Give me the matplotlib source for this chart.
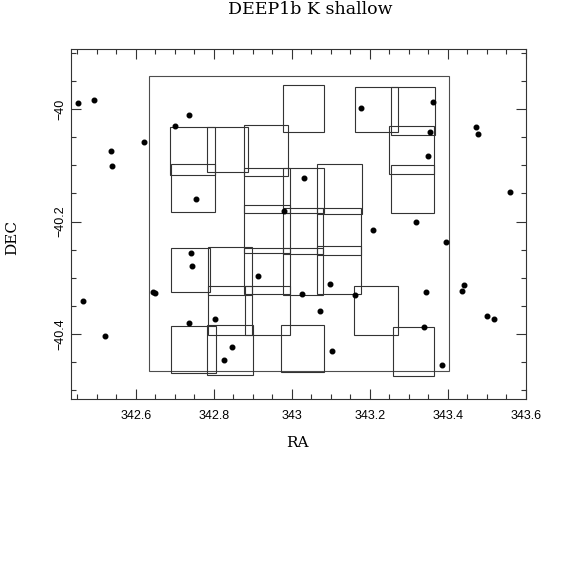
import matplotlib
matplotlib.use("Agg")
import matplotlib.pyplot as plt
from matplotlib.patches import Rectangle
from matplotlib.ticker import MultipleLocator

# field outline
field_ra = [342.635, 343.403]
field_dec = [-40.465, -39.941]

# individual pointings (RA min/max, DEC min/max)
tile_ra0 = [342.976, 343.163, 343.253, 342.688, 342.783, 342.878, 343.250,
            342.691, 342.878, 342.976, 343.065, 343.253, 342.878, 342.976,
            343.065, 342.691, 342.786, 342.878, 342.976, 343.065, 342.786,
            342.881, 343.158, 342.691, 342.783, 342.971, 343.258]
tile_ra1 = [343.083, 343.271, 343.368, 342.804, 342.888, 342.991, 343.365,
            342.804, 342.994, 343.083, 343.181, 343.365, 342.994, 343.081,
            343.176, 342.791, 342.899, 342.994, 343.081, 343.178, 342.899,
            342.994, 343.271, 342.806, 342.901, 343.083, 343.365]
tile_dec0 = [-40.040, -40.040, -40.046, -40.117, -40.112, -40.119, -40.115,
             -40.183, -40.185, -40.185, -40.186, -40.185, -40.256, -40.257,
             -40.259, -40.325, -40.330, -40.329, -40.330, -40.329, -40.401,
             -40.401, -40.401, -40.469, -40.473, -40.467, -40.475]
tile_dec1 = [-39.957, -39.960, -39.960, -40.031, -40.031, -40.028, -40.030,
             -40.097, -40.104, -40.104, -40.097, -40.099, -40.170, -40.176,
             -40.176, -40.247, -40.245, -40.247, -40.247, -40.243, -40.315,
             -40.315, -40.314, -40.385, -40.384, -40.384, -40.388]

# sources
src_ra = [342.451, 342.494, 342.537, 342.540, 342.621, 342.701, 342.737,
          342.754, 342.979, 343.177, 343.362, 343.355, 343.349, 343.472,
          343.476, 343.560, 343.031, 343.317, 343.208, 342.742, 342.744,
          342.644, 342.648, 342.465, 342.520, 342.736, 342.804, 342.846,
          342.827, 342.912, 343.394, 343.099, 343.026, 343.163, 343.072,
          343.344, 343.440, 343.437, 343.501, 343.517, 343.338, 343.103,
          343.385]
src_dec = [-39.989, -39.983, -40.074, -40.101, -40.059, -40.030, -40.010,
           -40.160, -40.181, -39.998, -39.988, -40.040, -40.083, -40.032,
           -40.045, -40.148, -40.122, -40.201, -40.215, -40.256, -40.279,
           -40.325, -40.327, -40.342, -40.403, -40.381, -40.374, -40.423,
           -40.447, -40.296, -40.237, -40.311, -40.329, -40.330, -40.359,
           -40.325, -40.312, -40.324, -40.367, -40.373, -40.387, -40.430,
           -40.455]

W = 574
fig = plt.figure(figsize=(5.74, 5.74), dpi=100)
ax = fig.add_axes([71 / W, 175 / W, 455 / W, 350 / W])

ax.add_patch(Rectangle((field_ra[0], field_dec[0]), field_ra[1] - field_ra[0],
                       field_dec[1] - field_dec[0], fill=False,
                       edgecolor="0.3", linewidth=0.8))
for r0, r1, d0, d1 in zip(tile_ra0, tile_ra1, tile_dec0, tile_dec1):
    ax.add_patch(Rectangle((r0, d0), r1 - r0, d1 - d0, fill=False,
                           edgecolor="0.2", linewidth=0.8))

ax.plot(src_ra, src_dec, "o", color="black", markersize=3.3, linestyle="none")

ax.set_xlim(342.434, 343.6)
ax.set_ylim(-40.5155, -39.893)

ax.xaxis.set_major_locator(MultipleLocator(0.2))
ax.xaxis.set_minor_locator(MultipleLocator(0.05))
ax.yaxis.set_major_locator(MultipleLocator(0.2))
ax.yaxis.set_minor_locator(MultipleLocator(0.05))
ax.tick_params(which="both", direction="in", top=True, right=True,
               labelsize=9, color="0.2")
ax.tick_params(which="major", length=7, width=0.8)
ax.tick_params(which="minor", length=3.5, width=0.8)
ax.tick_params(axis="x", pad=8)
ax.set_xticks([342.6, 342.8, 343.0, 343.2, 343.4, 343.6])
ax.set_xticklabels(["342.6", "342.8", "343", "343.2", "343.4", "343.6"],
                   family="Liberation Sans")
ax.set_yticks([-40.4, -40.2, -40.0])
ax.set_yticklabels(["\u221240.4", "\u221240.2", "\u221240"], rotation=90,
                   va="center", family="Liberation Sans")
for s in ax.spines.values():
    s.set_color("0.2")
    s.set_linewidth(0.8)

fig.text(310 / W, 1 - 10 / W, "DEEP1b K shallow", ha="center", va="center",
         family="DejaVu Serif", fontsize=12.5)
fig.text(297 / W, 1 - 443 / W, "RA", ha="center", va="center",
         family="DejaVu Serif", fontsize=11)
fig.text(12 / W, 1 - 238 / W, "DEC", ha="center", va="center", rotation=90,
         family="DejaVu Serif", fontsize=11)

fig.savefig("out.png", dpi=100, facecolor="white")
